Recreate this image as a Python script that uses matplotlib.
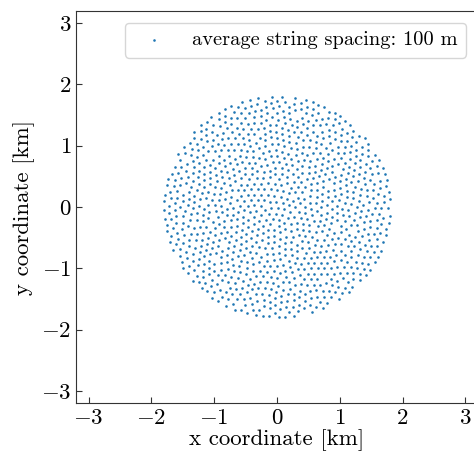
import numpy as np
import matplotlib
matplotlib.use('Agg')
import matplotlib.pyplot as plt

# detector layout parameters
n_strings = 1020
array_radius = 1.8          # km
string_spacing = 0.1        # km
spacing_label = 'average string spacing: 100 m'
xticks = [-3, -2, -1, 0, 1, 2, 3]
yticks = [-3, -2, -1, 0, 1, 2, 3]


def halton(n, base):
    out = np.zeros(n)
    for i in range(n):
        f, k, v = 1.0, i + 1, 0.0
        while k > 0:
            f /= base
            v += f * (k % base)
            k //= base
        out[i] = v
    return out


# start from a low-discrepancy fill of the disc, then relax to even spacing
m = int(n_strings * 4 / np.pi * 1.2)
px = (halton(m, 2) * 2 - 1) * array_radius
py = (halton(m, 3) * 2 - 1) * array_radius
keep = px**2 + py**2 < array_radius**2
pts = np.column_stack([px[keep], py[keep]])[:n_strings]

for it in range(80):
    d = pts[:, None, :] - pts[None, :, :]
    dist = np.sqrt((d**2).sum(-1)) + np.eye(len(pts))
    push = np.clip(string_spacing * 1.05 - dist, 0, None) / dist
    pts = pts + 0.25 * (d * push[:, :, None]).sum(1)
    rr = np.hypot(pts[:, 0], pts[:, 1])
    over = rr > array_radius
    pts[over] *= (array_radius / rr[over])[:, None]

x, y = pts[:, 0], pts[:, 1]

plt.rcParams['font.family'] = 'serif'
plt.rcParams['font.serif'] = ['cmr10']
plt.rcParams['mathtext.fontset'] = 'cm'
plt.rcParams['axes.formatter.use_mathtext'] = True

fig = plt.figure(figsize=(4.74, 4.61), dpi=100)
ax = fig.add_axes([0.1603, 0.1252, 0.848, 0.8516])
ax.scatter(x, y, s=3.5, color='#1f77b4', linewidths=0, label=spacing_label)

ax.set_xlim(-3.2, 3.2)
ax.set_ylim(-3.2, 3.2)
ax.set_xticks(xticks)
ax.set_yticks(yticks)
ax.tick_params(direction='in', length=4, width=0.8, color='#333333', labelsize=16.5)
for sp in ax.spines.values():
    sp.set_color('#333333')
ax.set_xlabel('x coordinate [km]', fontsize=16.5, labelpad=1)
ax.set_ylabel('y coordinate [km]', fontsize=16.5, labelpad=4)
ax.legend(loc='upper right', fontsize=14.7, markerscale=1.0, handletextpad=0.86,
          borderaxespad=0.6)

fig.savefig('out.png', dpi=100)
